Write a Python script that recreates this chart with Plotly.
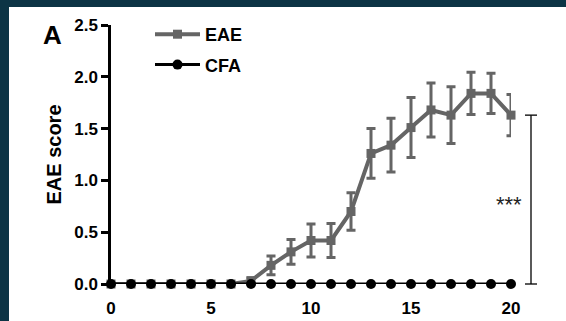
import plotly.graph_objects as go

# Clinical score time course (mean ± SEM)
days = list(range(0, 21))
eae_mean = [0, 0, 0, 0, 0, 0, 0, 0.03, 0.18, 0.31, 0.42, 0.42, 0.70, 1.26, 1.34,
            1.51, 1.68, 1.63, 1.84, 1.84, 1.63]
eae_sem = [0, 0, 0, 0, 0, 0, 0, 0.03, 0.09, 0.12, 0.16, 0.165, 0.18, 0.24, 0.26,
           0.29, 0.26, 0.275, 0.205, 0.195, 0.20]
cfa_mean = [0] * 21

x_ticks = [0, 5, 10, 15, 20]
y_ticks = [0.0, 0.5, 1.0, 1.5, 2.0, 2.5]
y_tick_text = ["0.0", "0.5", "1.0", "1.5", "2.0", "2.5"]
Y_MAX = 2.5

FONT = "Liberation Sans, Arial, sans-serif"
GRAY = "#656565"
FRAME = "#0c3445"

fig = go.Figure()

fig.add_trace(go.Scatter(
    x=days, y=eae_mean, name="EAE", mode="lines+markers",
    line=dict(color=GRAY, width=4),
    marker=dict(symbol="square", size=9, color=GRAY),
    error_y=dict(type="data", array=eae_sem, visible=True,
                 color=GRAY, thickness=3, width=4.5),
    cliponaxis=False, legendgroup="a",
))
fig.add_trace(go.Scatter(
    x=days, y=cfa_mean, name="CFA", mode="lines+markers",
    line=dict(color="black", width=3),
    marker=dict(symbol="circle", size=10, color="black"),
    cliponaxis=False, legendgroup="b",
))

# plot-area geometry (pixels)
L, R, T, B = 111, 55, 25, 37
W, H = 566, 321
PW, PH = W - L - R, H - T - B

def px_x(p):
    return (p - L) / PW

def px_y(p):
    return (H - B - p) / PH

shapes = [
    # dark frame on the left and top edges
    dict(type="rect", xref="paper", yref="paper", layer="below",
         x0=px_x(0), x1=px_x(9), y0=px_y(H), y1=px_y(0),
         fillcolor=FRAME, line=dict(width=0)),
    dict(type="rect", xref="paper", yref="paper", layer="below",
         x0=px_x(0), x1=px_x(W), y0=px_y(7), y1=px_y(0),
         fillcolor=FRAME, line=dict(width=0)),
]

# significance bracket from 0 to the last EAE value
bx = px_x(531)
y_top = eae_mean[-1] / Y_MAX
y_bot = 0.0
cap = 6 / PW
shapes += [
    dict(type="line", xref="paper", yref="paper", x0=bx, x1=bx, y0=y_bot, y1=y_top,
         line=dict(color="black", width=1.3)),
    dict(type="line", xref="paper", yref="paper", x0=bx - cap, x1=bx + cap, y0=y_top, y1=y_top,
         line=dict(color="black", width=1.3)),
    dict(type="line", xref="paper", yref="paper", x0=bx - cap, x1=bx + cap, y0=y_bot, y1=y_bot,
         line=dict(color="black", width=1.3)),
]

annotations = [
    dict(text="***", xref="paper", yref="paper", x=px_x(524), y=px_y(205),
         xanchor="right", yanchor="middle", showarrow=False,
         font=dict(family=FONT, size=22, color="#222")),
    dict(text="<b>A</b>", xref="paper", yref="paper", x=px_x(52.5), y=px_y(35),
         xanchor="center", yanchor="middle", showarrow=False,
         font=dict(family=FONT, size=26, color="black")),
]

fig.update_layout(
    width=W, height=H,
    margin=dict(l=L, r=R, t=T, b=B, pad=0, autoexpand=False),
    paper_bgcolor="white",
    plot_bgcolor="rgba(0,0,0,0)",
    shapes=shapes,
    annotations=annotations,
    showlegend=True,
    legend=dict(
        x=px_x(150), y=px_y(16), xanchor="left", yanchor="top",
        bgcolor="rgba(0,0,0,0)", tracegroupgap=4,
        font=dict(family=FONT, size=18, color="black", weight="bold"),
        itemwidth=45,
    ),
    xaxis=dict(
        range=[0, 20], tickvals=x_ticks, ticktext=[str(t) for t in x_ticks],
        showgrid=False, zeroline=False, showline=False, ticks="",
        ticklabelstandoff=12, automargin=False,
        tickfont=dict(family=FONT, size=17, color="black", weight="bold"),
    ),
    yaxis=dict(
        range=[0, Y_MAX], tickvals=y_ticks, ticktext=y_tick_text,
        showgrid=False, zeroline=False, showline=True, linecolor="black", linewidth=2.5,
        ticks="outside", ticklen=7, tickwidth=2.5, tickcolor="black", automargin=False,
        tickfont=dict(family=FONT, size=17, color="black", weight="bold"),
        title=dict(text="EAE score", standoff=8,
                   font=dict(family=FONT, size=20, color="black", weight="bold")),
    ),
)

fig.write_html("out.html")
